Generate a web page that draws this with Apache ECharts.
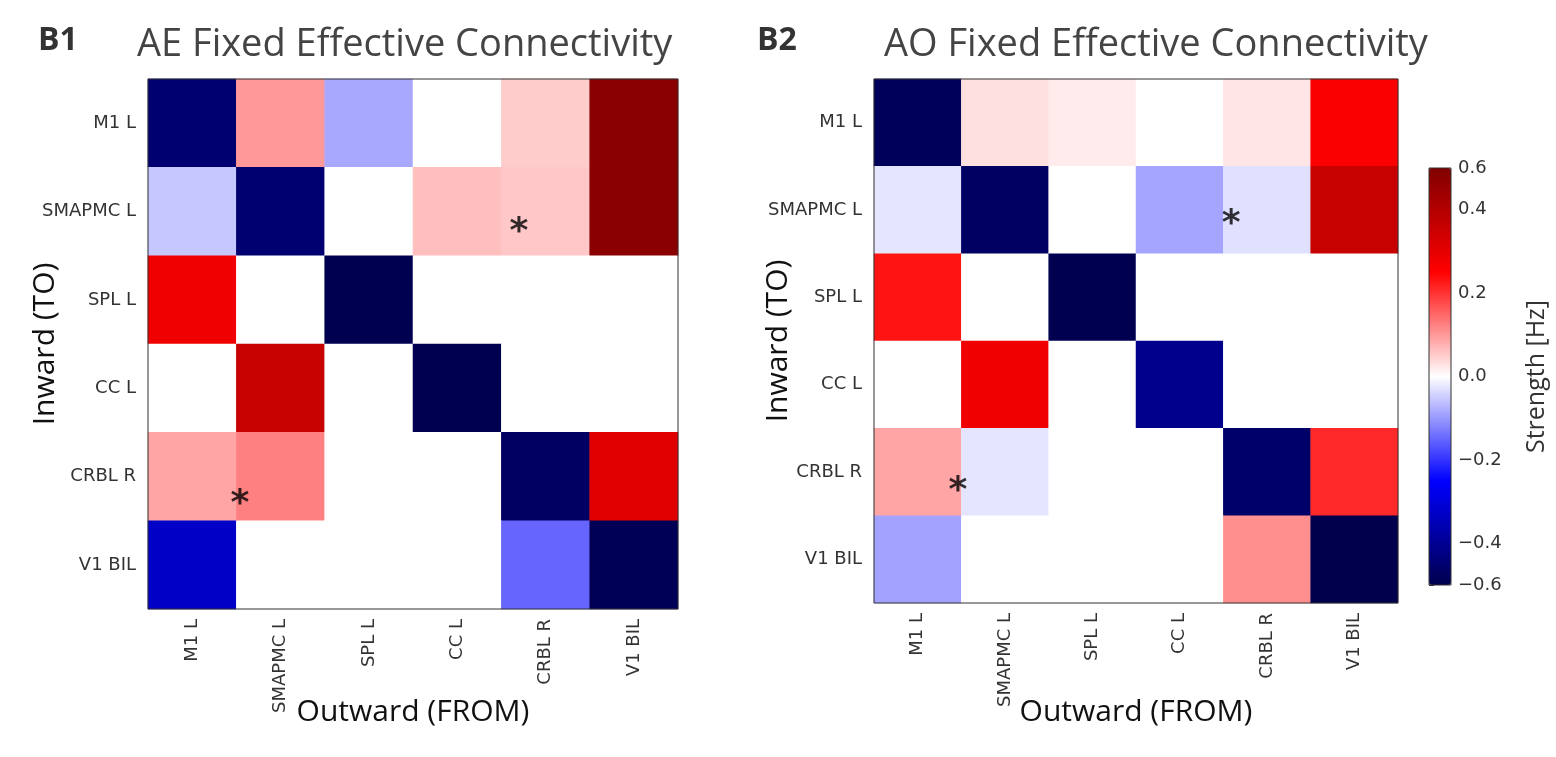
<!DOCTYPE html>
<html>
<head>
<meta charset="utf-8">
<script src="https://cdn.jsdelivr.net/npm/echarts@6/dist/echarts.min.js"></script>
<style>
html,body{margin:0;padding:0;background:#fff;}
#chart{width:1556px;height:757px;}
</style>
</head>
<body>
<div id="chart"></div>
<script>
// ---- data ----
const regions = ['M1 L', 'SMAPMC L', 'SPL L', 'CC L', 'CRBL R', 'V1 BIL'];
// rows = Inward (TO), columns = Outward (FROM)
const aeValues = [
  [-0.45, 0.10, -0.085, 0.00, 0.05, 0.48],
  [-0.055, -0.45, 0.00, 0.063, 0.055, 0.48],
  [0.28, 0.00, -0.495, 0.00, 0.00, 0.00],
  [0.00, 0.36, 0.00, -0.495, 0.00, 0.00],
  [0.088, 0.125, 0.00, 0.00, -0.47, 0.31],
  [-0.33, 0.00, 0.00, 0.00, -0.15, -0.49]
];
const aoValues = [
  [-0.48, 0.03, 0.02, 0.00, 0.025, 0.26],
  [-0.025, -0.47, 0.00, -0.088, -0.03, 0.36],
  [0.23, 0.00, -0.495, 0.00, 0.00, 0.00],
  [0.00, 0.28, 0.00, -0.41, 0.00, 0.00],
  [0.088, -0.025, 0.00, 0.00, -0.46, 0.21],
  [-0.09, 0.00, 0.00, 0.00, 0.11, -0.50]
];
// significance marks (position in cell units: x = FROM index, y = TO index)
const aeStars = [[0.54, 4.23], [3.70, 1.15]];
const aoStars = [[0.46, 4.13], [3.59, 1.08]];
// colorbar
const cbMin = -0.5, cbMax = 0.5;
const cbTickValues = [-0.5, -0.4, -0.2, 0, 0.2, 0.4, 0.5];
const cbTickLabels = ['\u22120.6', '\u22120.4', '\u22120.2', '0.0', '0.2', '0.4', '0.6'];
const seismic = ['#00004d', '#0000ff', '#ffffff', '#ff0000', '#800000'];

function toCells(m) {
  const out = [];
  m.forEach((row, r) => row.forEach((v, c) => out.push([c, r, v])));
  return out;
}

const chart = echarts.init(document.getElementById('chart'), null, {renderer: 'canvas'});

const grids = [
  {left: 148, top: 79, width: 530, height: 530},
  {left: 874, top: 79, width: 524, height: 524},
  {left: 1429, top: 168, width: 22, height: 417}
];

function catX(gi, nameGap) {
  return {
    type: 'category', gridIndex: gi, data: regions,
    axisLine: {show: false},
    axisTick: {show: true, alignWithLabel: true, length: 6, lineStyle: {color: '#333'}},
    axisLabel: {rotate: 90, fontFamily: 'DejaVu Sans', fontSize: 18, color: '#333', margin: 10},
    splitLine: {show: false},
    name: 'Outward (FROM)', nameLocation: 'middle', nameGap: nameGap, nameMoveOverlap: false,
    nameTextStyle: {fontFamily: 'Open Sans', fontSize: 30, color: '#111'}
  };
}
function catY(gi, nameGap) {
  return {
    type: 'category', gridIndex: gi, data: regions, inverse: true,
    axisLine: {show: false},
    axisTick: {show: true, alignWithLabel: true, length: 6, lineStyle: {color: '#333'}},
    axisLabel: {fontFamily: 'DejaVu Sans', fontSize: 18, color: '#333', margin: 12},
    splitLine: {show: false},
    name: 'Inward (TO)', nameLocation: 'middle', nameGap: nameGap, nameRotate: 90, nameMoveOverlap: false,
    nameTextStyle: {fontFamily: 'Open Sans', fontSize: 30, color: '#111'}
  };
}
function hiddenVal(gi, inverse) {
  return {type: 'value', gridIndex: gi, min: -0.5, max: 5.5, inverse: inverse, show: false};
}

function starSeries(xi, yi, pts) {
  return {
    type: 'scatter', xAxisIndex: xi, yAxisIndex: yi, data: pts,
    symbol: 'circle', symbolSize: 2, itemStyle: {color: 'rgba(0,0,0,0)'}, silent: true, z: 10,
    label: {show: true, position: 'inside', formatter: '*', fontFamily: 'DejaVu Sans',
            fontWeight: 'bold', fontSize: 36, color: '#000', offset: [0, 8]}
  };
}

const option = {
  backgroundColor: '#ffffff',
  animation: false,
  title: [
    {text: 'B1', left: 38, top: 25, padding: 0,
     textStyle: {fontFamily: 'Open Sans', fontWeight: 'bold', fontSize: 32, color: '#333'}},
    {text: 'AE Fixed Effective Connectivity', left: 137, top: 26, padding: 0,
     textStyle: {fontFamily: 'Open Sans', fontWeight: 'normal', fontSize: 38, color: '#444'}},
    {text: 'B2', left: 757, top: 25, padding: 0,
     textStyle: {fontFamily: 'Open Sans', fontWeight: 'bold', fontSize: 32, color: '#333'}},
    {text: 'AO Fixed Effective Connectivity', left: 884, top: 26, padding: 0,
     textStyle: {fontFamily: 'Open Sans', fontWeight: 'normal', fontSize: 38, color: '#444'}}
  ],
  grid: [
    Object.assign({show: true, borderColor: '#333', borderWidth: 1, backgroundColor: 'transparent', z: 5}, grids[0]),
    Object.assign({show: true, borderColor: '#333', borderWidth: 1, backgroundColor: 'transparent', z: 5}, grids[1]),
    Object.assign({show: true, borderColor: '#333', borderWidth: 1, backgroundColor: 'transparent', z: 10}, grids[2])
  ],
  xAxis: [
    catX(0, 88),
    catX(1, 94),
    hiddenVal(0, false),
    hiddenVal(1, false),
    {type: 'value', gridIndex: 2, min: 0, max: 1, show: false}
  ],
  yAxis: [
    catY(0, 88),
    catY(1, 81),
    hiddenVal(0, true),
    hiddenVal(1, true),
    {
      type: 'value', gridIndex: 2, min: cbMin, max: cbMax, position: 'right',
      axisLine: {show: false},
      axisTick: {show: true, length: 5, customValues: cbTickValues, lineStyle: {color: '#333'}},
      axisLabel: {
        customValues: cbTickValues, fontFamily: 'DejaVu Sans', fontSize: 18, color: '#333', margin: 7,
        formatter: function (v) {
          let best = 0;
          cbTickValues.forEach((t, i) => { if (Math.abs(t - v) < Math.abs(cbTickValues[best] - v)) best = i; });
          return cbTickLabels[best];
        }
      },
      splitLine: {show: false},
      name: 'Strength [Hz]', nameLocation: 'middle', nameGap: 73, nameRotate: 90, nameMoveOverlap: false,
      nameTextStyle: {fontFamily: 'Open Sans', fontSize: 25, color: '#333'}
    }
  ],
  visualMap: {
    type: 'continuous', min: cbMin, max: cbMax, seriesIndex: [0, 1],
    orient: 'vertical', left: 1429, top: 168, itemWidth: 22, itemHeight: 417,
    padding: 0, calculable: false, showLabel: false, text: null, realtime: false,
    inRange: {color: seismic}, hoverLink: false
  },
  series: [
    {type: 'heatmap', xAxisIndex: 0, yAxisIndex: 0, data: toCells(aeValues),
     itemStyle: {borderWidth: 0}, emphasis: {disabled: true}, progressive: 0},
    {type: 'heatmap', xAxisIndex: 1, yAxisIndex: 1, data: toCells(aoValues),
     itemStyle: {borderWidth: 0}, emphasis: {disabled: true}, progressive: 0},
    starSeries(2, 2, aeStars),
    starSeries(3, 3, aoStars)
  ]
};
chart.setOption(option);
</script>
</body>
</html>
